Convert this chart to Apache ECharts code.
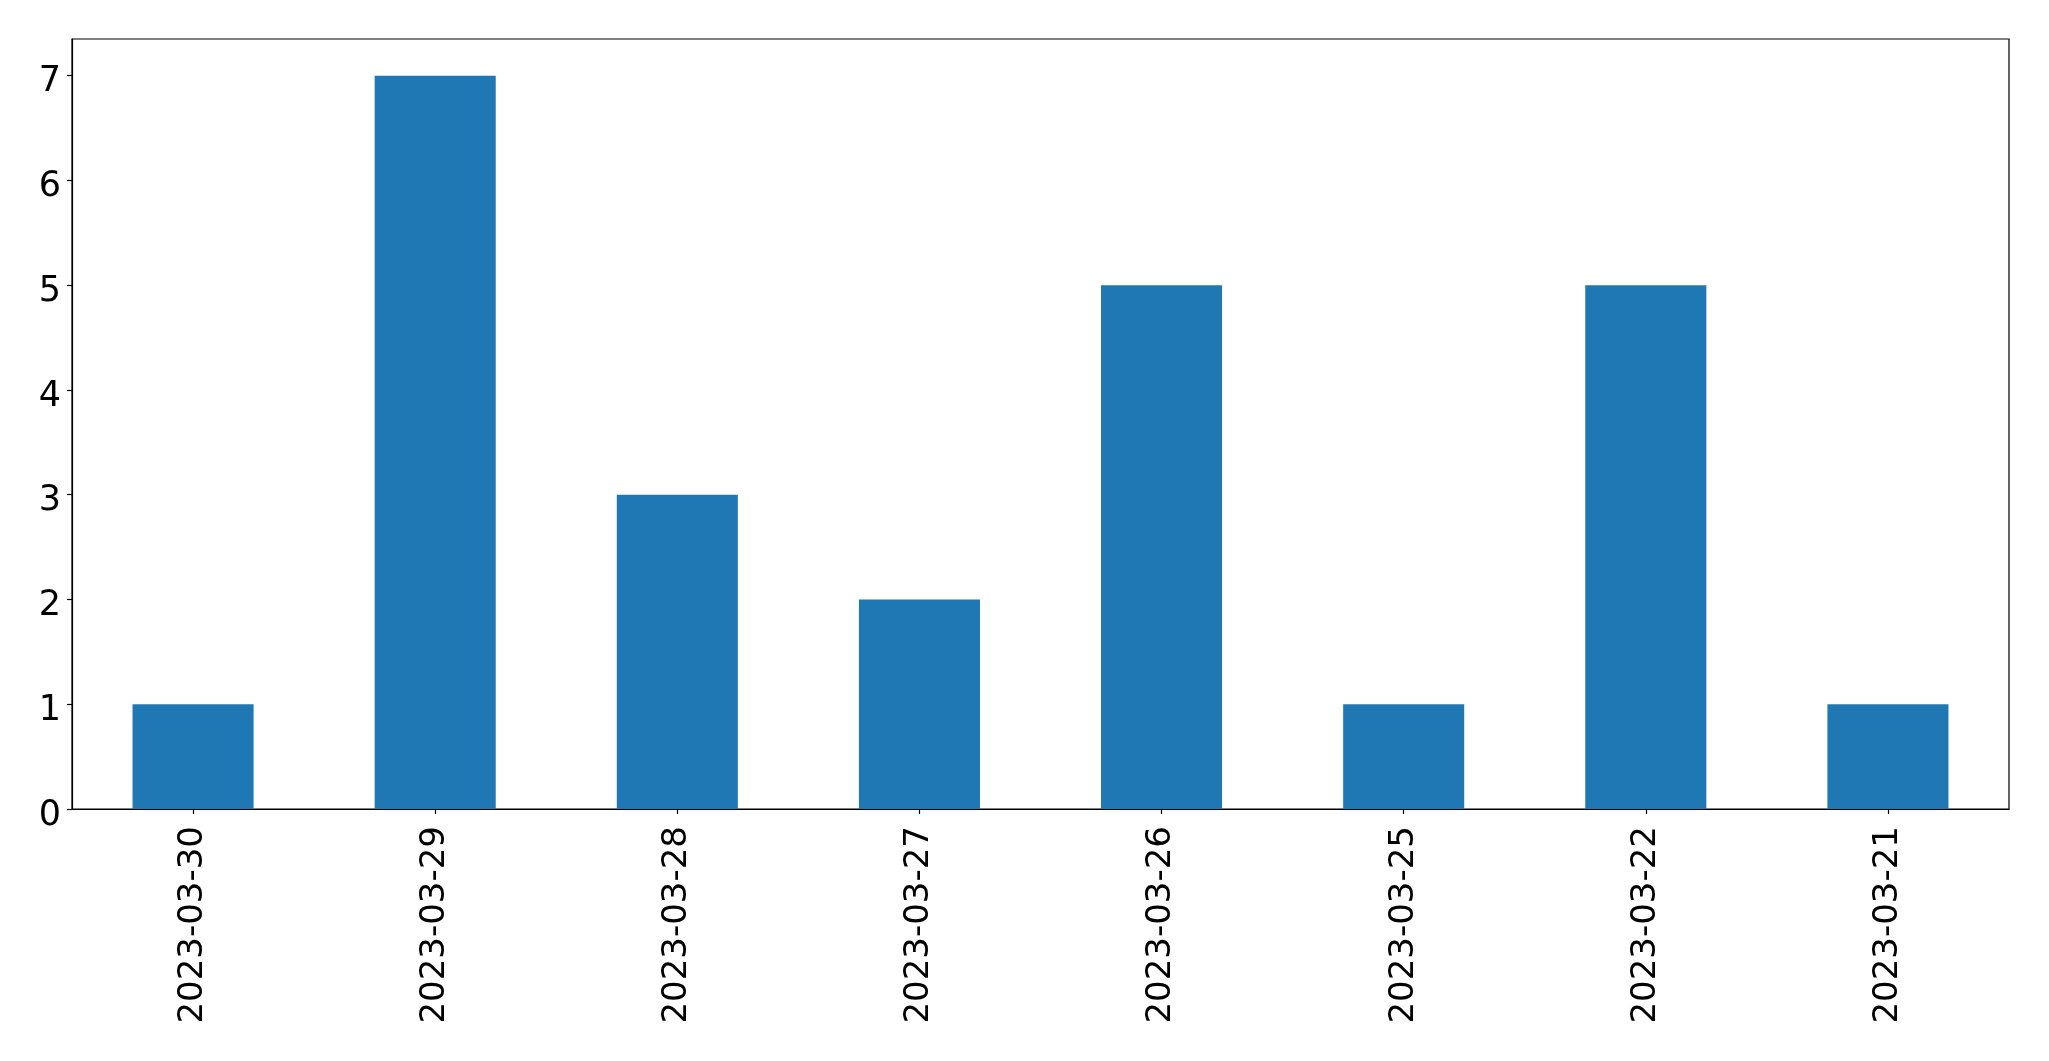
<!DOCTYPE html>
<html>
<head>
<meta charset="utf-8">
<script src="https://cdn.jsdelivr.net/npm/echarts@6/dist/echarts.min.js"></script>
<style>
html,body{margin:0;padding:0;background:#fff;}
#chart{width:2049px;height:1061px;}
</style>
</head>
<body>
<div id="chart"></div>
<script>
const categories = ['2023-03-30','2023-03-29','2023-03-28','2023-03-27','2023-03-26','2023-03-25','2023-03-22','2023-03-21'];
const values = [1, 7, 3, 2, 5, 1, 5, 1];
const yTicks = [0, 1, 2, 3, 4, 5, 6, 7];

const chart = echarts.init(document.getElementById('chart'), null, {renderer: 'canvas'});
const font = 'DejaVu Sans';
chart.setOption({
  animation: false,
  backgroundColor: '#ffffff',
  grid: {left: 72, top: 39, right: 40, bottom: 252, show: true, borderColor: '#000', borderWidth: 1.2, backgroundColor: 'transparent'},
  xAxis: {
    type: 'category',
    data: categories,
    axisLine: {show: true, lineStyle: {color: '#000', width: 1.2}},
    axisTick: {show: true, alignWithLabel: true, length: 5, lineStyle: {color: '#000', width: 1.2}},
    axisLabel: {rotate: 90, fontSize: 34, fontFamily: font, color: '#000', margin: 17, interval: 0},
    splitLine: {show: false}
  },
  yAxis: {
    type: 'value',
    min: 0,
    max: 7.35,
    interval: 1,
    axisLine: {show: true, lineStyle: {color: '#000', width: 1.2}},
    axisTick: {show: true, length: 5, lineStyle: {color: '#000', width: 1.2}, customValues: yTicks},
    axisLabel: {fontSize: 35, fontFamily: font, color: '#000', margin: 11, verticalAlign: 'top', lineHeight: 13, customValues: yTicks},
    splitLine: {show: false}
  },
  series: [{
    type: 'bar',
    data: values,
    barWidth: '50%',
    itemStyle: {color: '#1f77b4'}
  }]
});
</script>
</body>
</html>
